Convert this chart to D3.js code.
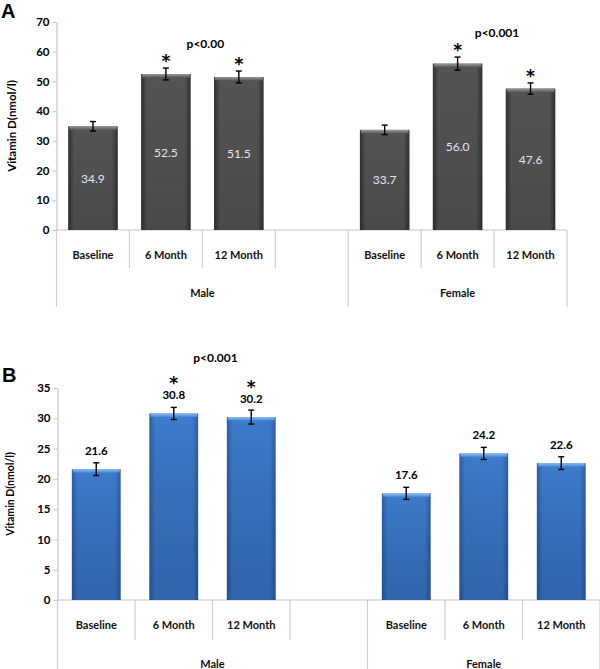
<!DOCTYPE html>
<html>
<head>
<meta charset="utf-8">
<script src="https://cdn.jsdelivr.net/npm/d3@7"></script>
<style>
  html, body { margin: 0; padding: 0; background: #fff; }
  svg { display: block; }
  text { font-family: Lato, "Open Sans", sans-serif; }
</style>
</head>
<body>
<svg id="chart" width="600" height="669"></svg>
<script>
// ---- data ----
const categories = ["Baseline", "6 Month", "12 Month"];
const groups = ["Male", "Female"];

const valuesA_male   = [34.9, 52.5, 51.5];
const valuesA_female = [33.7, 56.0, 47.6];
const errorsA_male   = [1.6, 2.0, 2.0];
const errorsA_female = [1.6, 2.2, 1.9];
const starsA_male    = [false, true, true];
const starsA_female  = [false, true, true];
const pValuesA       = ["p<0.00", "p<0.001"];
const ticksA         = [0, 10, 20, 30, 40, 50, 60, 70];

const valuesB_male   = [21.6, 30.8, 30.2];
const valuesB_female = [17.6, 24.2, 22.6];
const errorsB_male   = [1.05, 1.0, 1.15];
const errorsB_female = [1.0, 1.0, 1.05];
const starsB_male    = [false, true, true];
const starsB_female  = [false, false, false];
const pValuesB       = ["p<0.001", ""];
const ticksB         = [0, 5, 10, 15, 20, 25, 30, 35];

const yTitle = "Vitamin D(nmol/l)";

const svg = d3.select("#chart");
const defs = svg.append("defs");

// gradients
function hGrad(id, edge, mid) {
  const g = defs.append("linearGradient").attr("id", id)
    .attr("x1", "0%").attr("x2", "100%").attr("y1", "0%").attr("y2", "0%");
  g.append("stop").attr("offset", "0%").attr("stop-color", edge);
  g.append("stop").attr("offset", "12%").attr("stop-color", mid);
  g.append("stop").attr("offset", "88%").attr("stop-color", mid);
  g.append("stop").attr("offset", "100%").attr("stop-color", edge);
}
function vGrad(id, top, bottom) {
  const g = defs.append("linearGradient").attr("id", id)
    .attr("x1", "0%").attr("x2", "0%").attr("y1", "0%").attr("y2", "100%");
  g.append("stop").attr("offset", "0%").attr("stop-color", top);
  g.append("stop").attr("offset", "100%").attr("stop-color", bottom);
}
hGrad("grayH", "#303030", "#545454");
vGrad("grayCap", "#9a9a9a", "#5a5a5a");
hGrad("blueH", "#2b5ea6", "#3d7ccc");
vGrad("blueShade", "rgba(0,0,0,0)", "rgba(10,30,80,0.25)");
vGrad("blueCap", "#8cbcf0", "#4a88d6");
vGrad("grayShade", "rgba(0,0,0,0)", "rgba(0,0,0,0.12)");

function drawPanel(cfg) {
  const g = svg.append("g");
  const slots = d3.range(7);
  const x = d3.scaleBand().domain(slots).range([cfg.x0, cfg.x1]).paddingInner(0).paddingOuter(0);
  const y = d3.scaleLinear().domain([0, d3.max(cfg.ticks)]).range([cfg.yBottom, cfg.yTop]);

  const rows = [];
  const series = [cfg.male, cfg.female];
  const errs = [cfg.errMale, cfg.errFemale];
  const stars = [cfg.starMale, cfg.starFemale];
  const slotStart = [0, 4];
  groups.forEach((grp, gi) => {
    categories.forEach((c, ci) => {
      rows.push({ group: gi, cat: c, slot: slotStart[gi] + ci, v: series[gi][ci], e: errs[gi][ci], star: stars[gi][ci] });
    });
  });

  const bw = x.bandwidth() * cfg.barFrac;
  const bx = d => x(d.slot) + (x.bandwidth() - bw) / 2;

  // y axis
  const yAxis = d3.axisLeft(y).tickValues(cfg.ticks).tickSize(4).tickSizeOuter(0).tickPadding(3);
  const ya = g.append("g").attr("transform", `translate(${cfg.x0},0)`).call(yAxis);
  ya.select(".domain").attr("stroke", "#c6c6c6").attr("stroke-width", 1.2);
  ya.selectAll(".tick line").attr("stroke", "#c6c6c6");
  ya.selectAll(".tick text").attr("fill", "#000").style("font-weight", "bold")
    .style("font-size", "11.5px").style("font-family", "Lato, sans-serif");

  // x axis baseline
  g.append("line").attr("x1", cfg.x0).attr("x2", cfg.x1)
    .attr("y1", y(0)).attr("y2", y(0)).attr("stroke", "#c6c6c6").attr("stroke-width", 1.2);

  // separators
  const seps = d3.range(8).map(i => ({ i, xp: i < 7 ? x(i) : cfg.x1, full: (i === 0 || i === 4 || i === 7) }));
  g.selectAll(".sep").data(seps).enter().append("line")
    .attr("x1", d => d.xp).attr("x2", d => d.xp)
    .attr("y1", y(0)).attr("y2", d => y(0) + (d.full ? cfg.groupRowBottom : cfg.catRowBottom))
    .attr("stroke", "#cfcfcf").attr("stroke-width", 1.2);

  // category labels
  g.selectAll(".cat").data(rows).enter().append("text")
    .attr("x", d => x(d.slot) + x.bandwidth() / 2)
    .attr("y", y(0) + cfg.catLabelDy)
    .attr("text-anchor", "middle").attr("dominant-baseline", "central")
    .style("font-size", "11px").style("font-weight", "bold").attr("fill", "#111")
    .text(d => d.cat);

  // group labels
  const grpSpan = [[0, 4], [4, 7]];
  g.selectAll(".grp").data(groups).enter().append("text")
    .attr("x", (d, i) => {
      const a = x(grpSpan[i][0]);
      const b = grpSpan[i][1] < 7 ? x(grpSpan[i][1]) : cfg.x1;
      return (a + b) / 2;
    })
    .attr("y", y(0) + cfg.groupLabelDy)
    .attr("text-anchor", "middle").attr("dominant-baseline", "central")
    .style("font-size", "11px").style("font-weight", "bold").attr("fill", "#111")
    .text(d => d);

  // bars
  const bars = g.selectAll(".bar").data(rows).enter().append("g");
  bars.append("rect")
    .attr("x", bx).attr("width", bw)
    .attr("y", d => y(d.v)).attr("height", d => y(0) - y(d.v))
    .attr("fill", `url(#${cfg.fillH})`);
  bars.append("rect")
    .attr("x", bx).attr("width", bw)
    .attr("y", d => y(d.v)).attr("height", d => y(0) - y(d.v))
    .attr("fill", `url(#${cfg.fillShade})`);
  bars.append("rect")
    .attr("x", d => bx(d) + 1).attr("width", bw - 2)
    .attr("y", d => y(d.v)).attr("height", 3.5)
    .attr("fill", `url(#${cfg.fillCap})`);

  // error bars
  const cap = 3;
  const eb = g.selectAll(".err").data(rows).enter().append("g")
    .attr("stroke", "#000").attr("stroke-width", 1.4);
  eb.append("line")
    .attr("x1", d => bx(d) + bw / 2).attr("x2", d => bx(d) + bw / 2)
    .attr("y1", d => y(d.v + d.e)).attr("y2", d => y(d.v - d.e));
  eb.append("line")
    .attr("x1", d => bx(d) + bw / 2 - cap).attr("x2", d => bx(d) + bw / 2 + cap)
    .attr("y1", d => y(d.v + d.e)).attr("y2", d => y(d.v + d.e));
  eb.append("line")
    .attr("x1", d => bx(d) + bw / 2 - cap).attr("x2", d => bx(d) + bw / 2 + cap)
    .attr("y1", d => y(d.v - d.e)).attr("y2", d => y(d.v - d.e));

  // value labels
  if (cfg.labelInside) {
    g.selectAll(".val").data(rows).enter().append("text")
      .attr("x", d => bx(d) + bw / 2)
      .attr("y", d => y(d.v / 2))
      .attr("text-anchor", "middle").attr("dominant-baseline", "central")
      .style("font-size", "12px").attr("fill", "#e4e4ec")
      .text(d => d.v.toFixed(1));
  } else {
    g.selectAll(".val").data(rows).enter().append("text")
      .attr("x", d => bx(d) + bw / 2)
      .attr("y", d => y(d.v) - 14)
      .attr("text-anchor", "middle")
      .style("font-size", "11.5px").style("font-weight", "bold").attr("fill", "#000")
      .text(d => d.v.toFixed(1));
  }

  // stars
  g.selectAll(".star").data(rows.filter(d => d.star)).enter().append("text")
    .attr("x", d => bx(d) + bw / 2)
    .attr("y", d => cfg.labelInside ? y(d.v + d.e) - 1 : y(d.v) - 24)
    .attr("text-anchor", "middle")
    .style("font-size", "17px").style("font-weight", "bold").style("font-family", "'DejaVu Sans', sans-serif")
    .attr("fill", "#000")
    .text("*");

  // p-values
  groups.forEach((grp, gi) => {
    const txt = cfg.pValues[gi];
    if (!txt) return;
    const gr = rows.filter(d => d.group === gi && d.star);
    const cx = d3.mean(gr, d => bx(d) + bw / 2) + 3;
    const top = d3.min(gr, d => cfg.labelInside ? y(d.v + d.e) : y(d.v));
    g.append("text")
      .attr("x", cx).attr("y", top + cfg.pDy)
      .attr("text-anchor", "middle")
      .style("font-size", "12px").style("font-weight", "bold").attr("fill", "#000")
      .text(txt);
  });

  // y title
  g.append("text")
    .attr("transform", `translate(${cfg.titleX},${(y(0) + y(d3.max(cfg.ticks))) / 2}) rotate(-90)`)
    .attr("text-anchor", "middle").attr("dominant-baseline", "central")
    .style("font-size", cfg.titleSize).style("font-weight", "bold").attr("fill", "#000")
    .text(yTitle);

  // panel letter
  svg.append("text").attr("x", cfg.letterX).attr("y", cfg.letterY)
    .style("font-family", "'Liberation Sans', Arial, sans-serif")
    .style("font-size", "20px").style("font-weight", "bold").attr("fill", "#000")
    .text(cfg.letter);
}

drawPanel({
  letter: "A", letterX: 1, letterY: 18,
  x0: 56.5, x1: 567, yBottom: 230, yTop: 22, ticks: ticksA,
  male: valuesA_male, female: valuesA_female,
  errMale: errorsA_male, errFemale: errorsA_female,
  starMale: starsA_male, starFemale: starsA_female,
  pValues: pValuesA, pDy: -20,
  barFrac: 0.68, labelInside: true,
  fillH: "grayH", fillShade: "grayShade", fillCap: "grayCap",
  catLabelDy: 24, catRowBottom: 38, groupLabelDy: 62, groupRowBottom: 77,
  titleX: 11, titleSize: "11.5px"
});

drawPanel({
  letter: "B", letterX: 2, letterY: 382,
  x0: 57.5, x1: 600, yBottom: 600, yTop: 388, ticks: ticksB,
  male: valuesB_male, female: valuesB_female,
  errMale: errorsB_male, errFemale: errorsB_female,
  starMale: starsB_male, starFemale: starsB_female,
  pValues: pValuesB, pDy: -51,
  barFrac: 0.63, labelInside: false,
  fillH: "blueH", fillShade: "blueShade", fillCap: "blueCap",
  catLabelDy: 24, catRowBottom: 40, groupLabelDy: 63, groupRowBottom: 80,
  titleX: 10, titleSize: "10.5px"
});
</script>
</body>
</html>
